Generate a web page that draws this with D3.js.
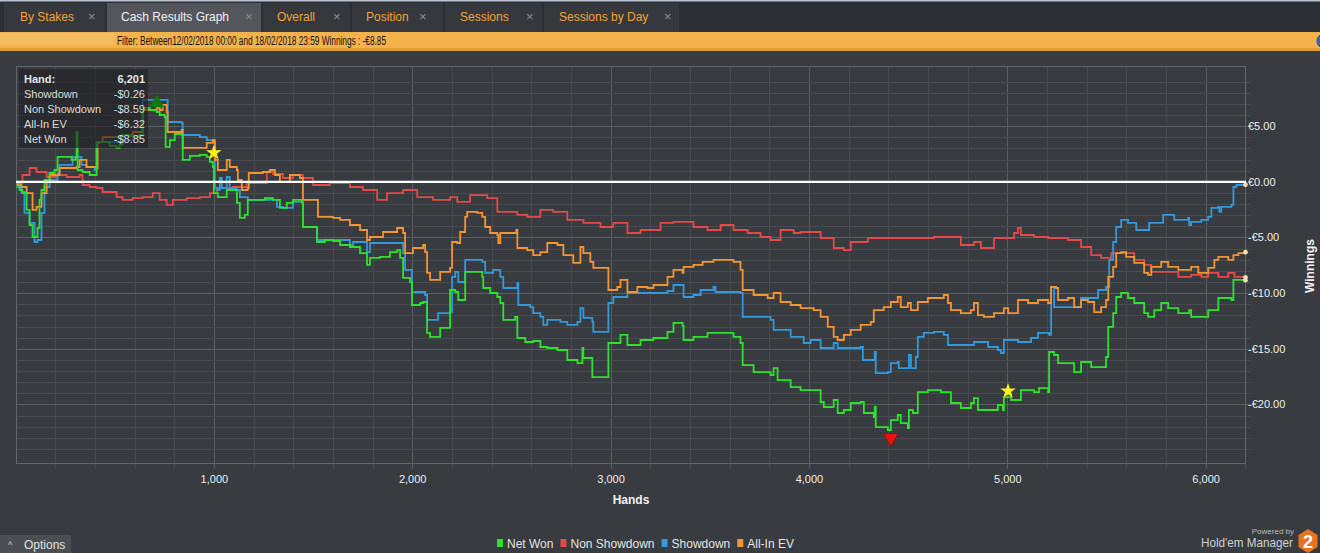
<!DOCTYPE html>
<html>
<head>
<meta charset="utf-8">
<script src="https://cdn.jsdelivr.net/npm/d3@7"></script>
<style>
body{margin:0;background:#383b3f;overflow:hidden;}
#viz_graph{width:1320px;height:553px;}
svg{display:block;font-family:"Liberation Sans Narrow","Liberation Sans",Arial,sans-serif;}
</style>
</head>
<body>
<div id="viz_graph"></div>
<script>
// chart values (hands, winnings in EUR)
var netWon=[[5,-0.11],[20,-0.74],[35,-1.01],[56,-2.53],[71,-3.88],[86,-4.96],[111,-4.15],[121,-1.63],[131,-0.74],[146,0.16],[172,0.79],[197,1.06],[212,2.23],[283,1.96],[303,2.14],[308,4.47],[313,1.06],[338,0.88],[374,0.61],[409,3.49],[424,3.57],[475,3.22],[510,3.04],[525,3.31],[540,4.20],[576,4.11],[626,4.20],[641,6.63],[677,6.45],[712,6.27],[727,6.00],[752,5.82],[757,3.13],[778,3.75],[803,4.29],[838,4.20],[843,1.96],[879,2.32],[929,2.41],[964,2.23],[980,1.78],[995,1.33],[1000,-1.01],[1020,-1.37],[1065,-0.74],[1116,-1.90],[1131,-3.25],[1156,-2.98],[1171,-1.63],[1257,-1.46],[1298,-1.63],[1333,-2.35],[1368,-1.90],[1399,-1.63],[1444,-1.81],[1449,-4.06],[1520,-5.41],[1560,-5.23],[1601,-5.32],[1636,-5.68],[1686,-5.86],[1737,-6.40],[1772,-7.47],[1787,-6.84],[1838,-6.75],[1888,-6.31],[1924,-6.13],[1939,-6.84],[1954,-8.64],[1989,-9.00],[1999,-11.07],[2040,-10.89],[2055,-10.80],[2075,-13.58],[2090,-13.94],[2141,-13.13],[2191,-9.72],[2217,-9.90],[2232,-10.62],[2267,-8.10],[2353,-8.55],[2358,-9.54],[2393,-9.99],[2429,-10.35],[2444,-10.89],[2459,-12.41],[2519,-12.14],[2530,-14.03],[2570,-14.39],[2610,-14.30],[2646,-14.84],[2681,-14.93],[2732,-15.11],[2782,-16.01],[2833,-16.28],[2858,-14.93],[2863,-15.83],[2908,-17.54],[2989,-14.48],[3050,-13.76],[3085,-14.66],[3151,-14.21],[3216,-14.03],[3287,-13.49],[3317,-12.68],[3363,-12.95],[3368,-14.21],[3418,-13.94],[3489,-13.58],[3620,-13.94],[3655,-14.48],[3666,-16.46],[3721,-17.09],[3807,-17.36],[3822,-16.73],[3842,-17.81],[3908,-18.44],[3958,-18.71],[4059,-19.78],[4075,-20.23],[4125,-19.60],[4145,-20.77],[4176,-20.50],[4211,-19.87],[4261,-19.78],[4277,-20.77],[4327,-21.13],[4332,-20.23],[4337,-22.03],[4398,-22.30],[4413,-21.40],[4448,-20.95],[4463,-21.67],[4499,-22.12],[4504,-20.50],[4524,-20.77],[4549,-18.89],[4600,-18.71],[4665,-18.89],[4716,-19.87],[4766,-20.32],[4817,-19.87],[4832,-19.43],[4852,-20.50],[4953,-20.05],[4978,-20.50],[4983,-19.34],[5019,-19.60],[5069,-18.71],[5135,-18.89],[5160,-18.53],[5206,-18.89],[5211,-15.29],[5236,-15.56],[5256,-16.28],[5337,-17.09],[5372,-16.19],[5423,-16.64],[5498,-15.74],[5509,-13.04],[5534,-11.79],[5549,-10.35],[5574,-9.99],[5609,-10.44],[5640,-10.89],[5690,-11.79],[5710,-12.14],[5741,-11.52],[5776,-10.89],[5811,-11.34],[5862,-11.79],[5917,-11.52],[5927,-12.14],[6013,-11.52],[6064,-10.44],[6130,-10.62],[6140,-8.82],[6201,-8.85]];

var nonShowdown=[[5,-0.11],[35,0.61],[71,1.24],[106,0.88],[157,0.43],[207,0.61],[257,0.43],[323,0.61],[338,-0.29],[374,-0.47],[409,-0.56],[439,-0.92],[510,-1.37],[540,-1.63],[591,-1.46],[641,-1.37],[692,-1.01],[727,-1.63],[762,-2.08],[793,-1.63],[863,-1.46],[929,-1.37],[980,-1.01],[1015,-0.56],[1096,-0.47],[1166,-0.11],[1267,0.88],[1298,0.70],[1348,0.34],[1399,0.61],[1449,0.34],[1500,-0.29],[1585,-0.11],[1686,-0.47],[1752,-0.74],[1823,-1.63],[1873,-1.01],[1954,-0.74],[2025,-1.37],[2105,-1.63],[2191,-1.37],[2227,-1.81],[2292,-1.19],[2378,-1.46],[2429,-2.71],[2530,-2.98],[2580,-3.16],[2646,-2.53],[2711,-2.71],[2782,-3.43],[2863,-3.70],[2949,-4.06],[3014,-3.70],[3085,-4.60],[3151,-4.33],[3252,-3.70],[3317,-3.61],[3418,-4.06],[3489,-4.33],[3555,-3.88],[3620,-4.33],[3691,-4.60],[3756,-4.96],[3807,-5.23],[3857,-4.33],[3923,-4.60],[3958,-4.51],[4059,-5.05],[4125,-5.95],[4176,-6.13],[4211,-5.41],[4297,-5.05],[4463,-5.05],[4630,-4.96],[4766,-5.68],[4832,-5.41],[4867,-5.95],[4933,-5.05],[5034,-4.60],[5054,-4.15],[5069,-4.78],[5135,-4.96],[5206,-5.05],[5306,-5.23],[5372,-5.86],[5423,-6.58],[5473,-6.84],[5524,-6.40],[5640,-7.02],[5690,-7.47],[5726,-8.10],[5862,-8.55],[5927,-8.37],[5978,-8.55],[6013,-8.19],[6064,-8.55],[6114,-8.19],[6145,-8.55],[6201,-8.59]];

var showdown=[[5,-0.47],[30,-0.92],[45,-2.80],[71,-3.70],[96,-5.41],[111,-5.23],[131,-2.80],[146,-0.47],[172,0.16],[212,0.79],[222,1.51],[288,2.23],[333,1.51],[358,1.33],[399,1.06],[409,3.57],[525,3.49],[540,3.75],[591,4.02],[641,7.35],[767,5.37],[838,5.28],[843,4.20],[929,4.02],[964,3.75],[995,3.57],[1005,-0.56],[1020,-0.74],[1030,0.34],[1040,-0.56],[1065,0.43],[1080,-0.56],[1116,-0.74],[1131,-1.37],[1171,-1.63],[1318,-2.26],[1348,-2.35],[1399,-1.81],[1444,-1.90],[1449,-4.06],[1520,-5.23],[1686,-5.68],[1702,-5.41],[1772,-6.31],[1787,-5.50],[1954,-6.40],[1964,-7.92],[1999,-9.90],[2065,-10.17],[2075,-12.41],[2131,-11.79],[2191,-11.70],[2201,-8.55],[2217,-8.10],[2232,-9.00],[2267,-7.02],[2353,-7.20],[2368,-8.19],[2408,-7.92],[2444,-8.55],[2459,-9.54],[2530,-9.09],[2535,-11.07],[2595,-11.25],[2610,-11.79],[2646,-12.14],[2661,-12.86],[2681,-12.41],[2747,-12.59],[2782,-12.86],[2833,-12.59],[2848,-11.34],[2863,-12.23],[2908,-12.59],[2913,-13.49],[2989,-10.89],[3014,-10.35],[3085,-9.99],[3287,-9.81],[3317,-9.27],[3368,-10.35],[3418,-10.17],[3454,-9.72],[3519,-9.45],[3529,-9.90],[3655,-9.99],[3666,-12.14],[3807,-12.41],[3822,-13.31],[3908,-13.94],[3974,-14.48],[4009,-14.21],[4059,-14.93],[4125,-14.48],[4145,-14.93],[4261,-14.84],[4272,-16.01],[4332,-15.29],[4337,-17.18],[4398,-17.09],[4413,-16.28],[4448,-16.19],[4453,-16.73],[4504,-15.56],[4514,-16.73],[4539,-15.74],[4549,-13.94],[4579,-13.58],[4630,-13.49],[4680,-13.76],[4701,-14.66],[4832,-14.39],[4903,-14.84],[4953,-15.11],[4968,-15.38],[4983,-14.21],[5054,-14.39],[5120,-14.03],[5155,-13.58],[5211,-13.76],[5221,-9.45],[5236,-11.25],[5372,-10.44],[5458,-9.72],[5498,-9.45],[5514,-7.02],[5534,-5.41],[5549,-4.06],[5574,-3.43],[5609,-3.70],[5650,-4.33],[5715,-3.70],[5786,-2.98],[5842,-3.43],[5912,-3.25],[5917,-3.88],[5927,-3.61],[5978,-3.43],[6013,-3.16],[6029,-2.35],[6064,-2.26],[6069,-2.71],[6079,-2.26],[6130,-2.08],[6140,-0.47],[6155,-0.29],[6201,-0.26]];

var allInEV=[[5,-0.29],[30,-0.47],[56,-1.01],[86,-2.53],[106,-2.26],[131,-1.01],[157,0.16],[172,0.61],[222,1.24],[308,1.33],[323,1.96],[358,1.33],[409,1.24],[414,3.57],[439,4.02],[540,4.20],[591,4.47],[641,6.45],[712,6.63],[727,6.45],[742,6.90],[762,6.27],[767,4.47],[838,4.65],[843,3.04],[964,3.49],[995,3.75],[1005,1.96],[1020,1.06],[1065,1.96],[1080,1.33],[1116,1.06],[1121,0.16],[1141,-0.74],[1171,-0.56],[1176,0.79],[1247,0.88],[1282,1.06],[1308,0.61],[1333,-0.02],[1383,0.61],[1434,0.34],[1449,-1.63],[1525,-3.16],[1601,-3.25],[1636,-3.43],[1686,-3.88],[1737,-4.33],[1772,-5.23],[1787,-4.96],[1853,-4.51],[1924,-4.15],[1954,-4.60],[1964,-6.40],[2004,-5.95],[2055,-5.68],[2065,-6.31],[2075,-8.19],[2090,-8.82],[2141,-8.10],[2191,-7.74],[2201,-5.41],[2227,-5.50],[2242,-4.51],[2267,-3.16],[2277,-2.71],[2328,-2.80],[2353,-3.16],[2368,-4.06],[2393,-4.60],[2429,-4.78],[2434,-5.50],[2444,-4.60],[2525,-4.33],[2530,-5.95],[2580,-6.13],[2610,-6.58],[2646,-6.31],[2681,-5.50],[2732,-5.68],[2762,-6.58],[2812,-7.29],[2848,-5.86],[2863,-6.40],[2898,-7.20],[2913,-7.74],[2989,-9.72],[3034,-9.45],[3050,-8.82],[3085,-9.90],[3135,-9.45],[3186,-9.54],[3216,-9.27],[3287,-8.55],[3317,-7.92],[3363,-8.19],[3368,-7.65],[3418,-7.47],[3464,-7.20],[3519,-7.02],[3620,-7.20],[3655,-7.92],[3666,-9.72],[3721,-10.17],[3792,-10.44],[3822,-9.99],[3857,-10.80],[3908,-11.07],[3958,-11.34],[4024,-11.52],[4059,-12.14],[4095,-13.04],[4125,-13.94],[4145,-14.21],[4176,-13.76],[4211,-13.31],[4261,-12.86],[4312,-12.59],[4327,-11.52],[4377,-11.25],[4413,-10.80],[4448,-10.35],[4463,-11.25],[4499,-10.89],[4514,-11.52],[4549,-10.80],[4600,-10.44],[4680,-10.17],[4701,-10.89],[4716,-11.52],[4766,-11.79],[4817,-11.52],[4832,-10.89],[4852,-11.97],[4882,-12.14],[4933,-11.79],[4983,-11.34],[5004,-11.79],[5054,-10.62],[5105,-10.89],[5155,-10.62],[5206,-10.89],[5221,-9.45],[5246,-9.54],[5256,-10.62],[5306,-10.44],[5337,-11.25],[5372,-10.62],[5407,-10.80],[5438,-11.70],[5473,-11.25],[5498,-10.62],[5509,-8.55],[5534,-7.65],[5549,-6.40],[5574,-6.31],[5599,-6.75],[5640,-7.29],[5690,-8.19],[5710,-8.37],[5726,-7.65],[5776,-7.20],[5811,-7.65],[5862,-7.92],[5927,-7.65],[5963,-8.19],[6013,-7.74],[6044,-7.02],[6064,-6.75],[6114,-7.02],[6140,-6.58],[6165,-6.40],[6201,-6.32]];

var seriesNames=["Net Won","Non Showdown","Showdown","All-In EV"];
var seriesColors=["#2fe12f","#e44a4a","#3399dd","#f39533"];

var xTicks=[1000,2000,3000,4000,5000,6000];
var yTicks=[5,0,-5,-10,-15,-20];

var starHands=[1000,5004];
var starValues=[2.6,-18.8];
var highMark=[712,7.08];
var lowMark=[4413,-23.0];

var tabs=["By Stakes","Cash Results Graph","Overall","Position","Sessions","Sessions by Day"];
var tipLabels=["Showdown","Non Showdown","All-In EV","Net Won"];
var tipValues=["-$0.26","-$8.59","-$6.32","-$8.85"];

var width=1320, height=553;

var svg_graph=d3.select("#viz_graph")
  .append("svg")
  .attr("width",width)
  .attr("height",height);

svg_graph.append("rect").attr("width",width).attr("height",height).attr("fill","#383b3f");

// tab strip
svg_graph.append("rect").attr("x",0).attr("y",0).attr("width",width).attr("height",32).attr("fill","#2c2f33");
svg_graph.append("rect").attr("x",0).attr("y",0).attr("width",width).attr("height",1.5).attr("fill","#b9c3cf");

var tabX=[4,107,263,352,445,544,681];
var tabTextX=[20,121,277,366,460,559];
var tabCloseX=[88,245,333,419,526,664];

var tab=svg_graph.selectAll(".tab")
  .data(tabs)
  .enter()
  .append("g")
  .attr("class","tab");

tab.append("rect")
  .attr("x",function(d,i){return tabX[i];})
  .attr("y",3)
  .attr("width",function(d,i){return tabX[i+1]-tabX[i]-2;})
  .attr("height",29)
  .attr("fill",function(d,i){return i==1?"#53575c":"#35383c";});

tab.append("text")
  .attr("x",function(d,i){return tabTextX[i];})
  .attr("y",21)
  .text(function(d){return d;})
  .style("font-size","12px")
  .attr("fill",function(d,i){return i==1?"#f0f0f0":"#f4a237";});

tab.append("text")
  .attr("x",function(d,i){return tabCloseX[i];})
  .attr("y",21)
  .text("\u00d7")
  .style("font-size","13px")
  .attr("fill","#8c9094");

// filter bar
svg_graph.append("rect").attr("x",0).attr("y",32).attr("width",width).attr("height",19).attr("fill","#f4b24c");
svg_graph.append("rect").attr("x",0).attr("y",48).attr("width",width).attr("height",3).attr("fill","#e29c36");
svg_graph.append("rect").attr("x",0).attr("y",33).attr("width",115).attr("height",12).attr("fill","#f7c577").attr("opacity",0.5);
svg_graph.append("circle").attr("cx",1324).attr("cy",41).attr("r",7).attr("fill","#2d6db0").attr("stroke","#1d4f86");

svg_graph.append("text")
  .attr("x",117)
  .attr("y",45)
  .text("Filter: Between12/02/2018 00:00 and 18/02/2018 23:59  Winnings : -\u20ac8.85")
  .attr("textLength",269)
  .attr("lengthAdjust","spacingAndGlyphs")
  .style("font-size","12.5px")
  .attr("fill","#111111");

// scales
var XScale=d3.scaleLinear().domain([0,6201]).range([15.5,1245.5]);
var YScale=d3.scaleLinear().domain([-25.35,10.4]).range([464,66]);

var grid=svg_graph.append("g");

grid.selectAll(".vgrid")
  .data(d3.range(200,6201,200))
  .enter()
  .append("line")
  .attr("x1",function(d){return Math.round(XScale(d))+0.5;})
  .attr("x2",function(d){return Math.round(XScale(d))+0.5;})
  .attr("y1",66)
  .attr("y2",469)
  .attr("stroke",function(d){return d%1000==0?"#5b5f63":"#474b4f";});

grid.selectAll(".hgrid")
  .data(d3.range(-24,10,1))
  .enter()
  .append("line")
  .attr("x1",16)
  .attr("x2",1251)
  .attr("y1",function(d){return Math.round(YScale(d))+0.5;})
  .attr("y2",function(d){return Math.round(YScale(d))+0.5;})
  .attr("stroke",function(d){return d%5==0?"#5b5f63":"#474b4f";});

svg_graph.append("rect")
  .attr("x",16.5)
  .attr("y",66.5)
  .attr("width",1229)
  .attr("height",397)
  .attr("fill","none")
  .attr("stroke","#62666a");

// axes
var xAxis=d3.axisBottom(XScale)
  .tickValues(xTicks)
  .tickFormat(d3.format(","))
  .tickSize(0)
  .tickPadding(11);

svg_graph.append("g")
  .attr("transform","translate(0,464)")
  .call(xAxis)
  .call(function(g){g.select(".domain").remove();})
  .selectAll("text")
  .style("font-size","11px")
  .attr("fill","#eeeeee");

var yAxis=d3.axisRight(YScale)
  .tickValues(yTicks)
  .tickFormat(function(d){return (d<0?"-":"")+"\u20ac"+Math.abs(d).toFixed(2);})
  .tickSize(0)
  .tickPadding(2);

svg_graph.append("g")
  .attr("transform","translate(1246,0)")
  .call(yAxis)
  .call(function(g){g.select(".domain").remove();})
  .selectAll("text")
  .style("font-size","11px")
  .attr("fill","#eeeeee");

svg_graph.append("text")
  .attr("x",631)
  .attr("y",504)
  .text("Hands")
  .style("font-size","12px")
  .style("font-weight","bold")
  .style("text-anchor","middle")
  .attr("fill","#f2f2f2");

svg_graph.append("text")
  .attr("transform","translate(1314,266) rotate(-90)")
  .text("Winnings")
  .style("font-size","12px")
  .style("font-weight","bold")
  .style("text-anchor","middle")
  .attr("fill","#f2f2f2");

// lines
var line=d3.line()
  .x(function(d){return XScale(d[0]);})
  .y(function(d){return YScale(d[1]);})
  .curve(d3.curveStepAfter);

var plot=svg_graph.append("g");
var drawOrder=[[nonShowdown,1],[showdown,2],[allInEV,3],[netWon,0]];

plot.selectAll(".series")
  .data(drawOrder)
  .enter()
  .append("path")
  .attr("d",function(d){return line(d[0]);})
  .attr("fill","none")
  .attr("stroke",function(d){return seriesColors[d[1]];})
  .attr("stroke-width",1.8)
  .attr("stroke-linejoin","miter");

svg_graph.append("line")
  .attr("x1",16)
  .attr("x2",1246)
  .attr("y1",YScale(0))
  .attr("y2",YScale(0))
  .attr("stroke","#ffffff")
  .attr("stroke-width",2.2);

plot.selectAll(".enddot")
  .data(drawOrder)
  .enter()
  .append("circle")
  .attr("cx",function(d){return XScale(d[0][d[0].length-1][0]);})
  .attr("cy",function(d){return YScale(d[0][d[0].length-1][1]);})
  .attr("r",2.3)
  .attr("fill","#fbe2b4");

// markers
svg_graph.append("path")
  .attr("d",d3.symbol().type(d3.symbolTriangle).size(95))
  .attr("transform","translate("+XScale(highMark[0])+","+YScale(highMark[1])+")")
  .attr("fill","#0c7a0c");

svg_graph.append("path")
  .attr("d",d3.symbol().type(d3.symbolTriangle).size(95))
  .attr("transform","translate("+XScale(lowMark[0])+","+YScale(lowMark[1])+") rotate(180)")
  .attr("fill","#ee0f0f")
  .attr("stroke","#8a1010")
  .attr("stroke-width",0.8);

svg_graph.selectAll(".star")
  .data(starHands)
  .enter()
  .append("path")
  .attr("d",d3.symbol().type(d3.symbolStar).size(75))
  .attr("transform",function(d,i){return "translate("+XScale(d)+","+YScale(starValues[i])+")";})
  .attr("fill","#fff21a");

// hover box
var tip=svg_graph.append("g");
tip.append("rect")
  .attr("x",19)
  .attr("y",69)
  .attr("width",129)
  .attr("height",79)
  .attr("fill","#1f2022")
  .attr("opacity",0.62);

tip.append("text").attr("x",24).attr("y",83).text("Hand:")
  .style("font-size","11px").style("font-weight","bold").attr("fill","#e6e6e6");
tip.append("text").attr("x",145).attr("y",83).text("6,201")
  .style("font-size","11px").style("font-weight","bold").style("text-anchor","end").attr("fill","#e6e6e6");

tip.selectAll(".tiprow")
  .data(tipLabels)
  .enter()
  .append("text")
  .attr("x",24)
  .attr("y",function(d,i){return 98+i*15;})
  .text(function(d){return d;})
  .style("font-size","11px")
  .attr("fill","#dcdcdc");

tip.selectAll(".tipval")
  .data(tipValues)
  .enter()
  .append("text")
  .attr("x",145)
  .attr("y",function(d,i){return 98+i*15;})
  .text(function(d){return d;})
  .style("font-size","11px")
  .style("text-anchor","end")
  .attr("fill","#dcdcdc");

// legend
var legend=svg_graph.append("g");
var lx=497;
for(var i=0;i<seriesNames.length;i++)
{
  legend.append("rect")
    .attr("x",lx)
    .attr("y",539)
    .attr("width",6)
    .attr("height",8)
    .attr("fill",seriesColors[i]);
  var t=legend.append("text")
    .attr("x",lx+10)
    .attr("y",548)
    .text(seriesNames[i])
    .style("font-size","12px")
    .attr("fill","#e4e4e4");
  lx=lx+10+t.node().getComputedTextLength()+7;
}

// bottom chrome
svg_graph.append("rect").attr("x",0).attr("y",535).attr("width",71).attr("height",18).attr("fill","#4b4f54");
svg_graph.append("text").attr("x",8).attr("y",548).text("^").style("font-size","9px").attr("fill","#d0d0d0");
svg_graph.append("text").attr("x",24).attr("y",549).text("Options").style("font-size","12px").attr("fill","#e0e0e0");

svg_graph.append("text")
  .attr("x",1294)
  .attr("y",534)
  .text("Powered by")
  .style("font-size","8px")
  .style("text-anchor","end")
  .attr("fill","#b8b8b8");

svg_graph.append("text")
  .attr("x",1201)
  .attr("y",547)
  .text("Hold'em Manager")
  .attr("textLength",92)
  .attr("lengthAdjust","spacingAndGlyphs")
  .style("font-size","13px")
  .attr("fill","#cfcfcf");

var hex=d3.range(6).map(function(k){
  var a=Math.PI/3*k;
  return [1308+11*Math.sin(a),541-12*Math.cos(a)];
});
svg_graph.append("polygon")
  .attr("points",hex.map(function(p){return p.join(",");}).join(" "))
  .attr("fill","#e8731e");
svg_graph.append("text")
  .attr("x",1308)
  .attr("y",548)
  .text("2")
  .style("font-size","18px")
  .style("font-weight","bold")
  .style("text-anchor","middle")
  .attr("fill","#ffffff");
</script>
</body>
</html>
